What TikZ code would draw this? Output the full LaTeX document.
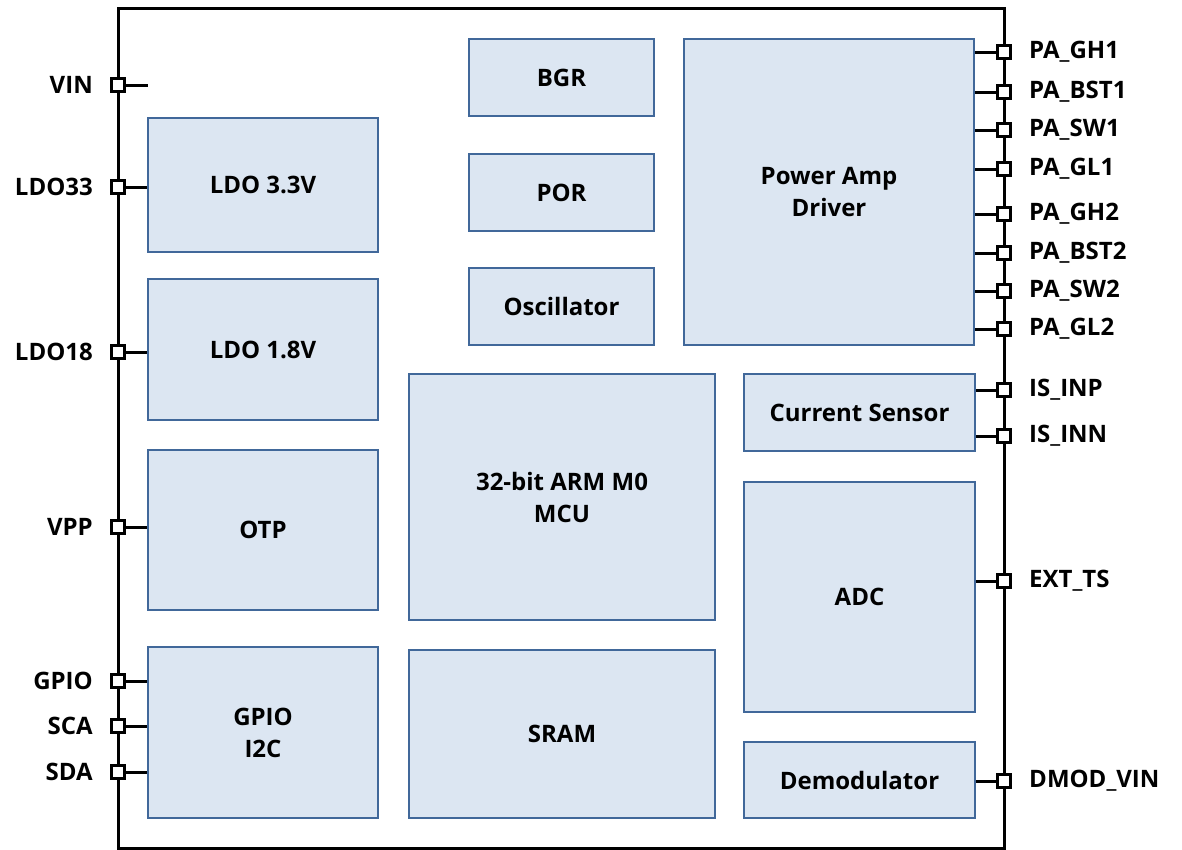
\documentclass[tikz,border=0pt]{standalone}
\usepackage{fontspec}
\setmainfont{Open Sans}
\definecolor{blkfill}{HTML}{DCE6F2}
\definecolor{blkline}{HTML}{41689A}
\begin{document}
\begin{tikzpicture}[x=1pt,y=-1pt,font=\fontsize{24}{32}\selectfont\bfseries]
    \tikzset{blk/.style={draw=blkline,fill=blkfill,line width=2.6,align=center,inner sep=0},
             pad/.style={draw,fill=white,line width=2.4,minimum size=13,inner sep=0},
             wire/.style={line width=3}}
    \useasboundingbox (0,0) rectangle (1182,849);
    % chip outline
    \draw[wire] (118,8) rectangle (1004,848);
    % blocks
    \node[blk,minimum width=230,minimum height=134] (ldo33) at (263,185) {LDO 3.3V};
    \node[blk,minimum width=230,minimum height=141] (ldo18) at (263,349.5) {LDO 1.8V};
    \node[blk,minimum width=230,minimum height=160] (otp) at (263,530) {OTP};
    \node[blk,minimum width=230,minimum height=171] (gpio) at (263,732.5) {GPIO\\I2C};
    \node[blk,minimum width=185,minimum height=77] (bgr) at (561.5,77.5) {BGR};
    \node[blk,minimum width=185,minimum height=77] (por) at (561.5,192.5) {POR};
    \node[blk,minimum width=185,minimum height=77] (osc) at (561.5,306.5) {Oscillator};
    \node[blk,minimum width=290,minimum height=306] (pa) at (829,192) {Power Amp\\Driver};
    \node[blk,minimum width=306,minimum height=246] (mcu) at (562,497) {32-bit ARM M0\\MCU};
    \node[blk,minimum width=306,minimum height=168] (sram) at (562,734) {SRAM};
    \node[blk,minimum width=231,minimum height=77] (cs) at (859.5,412.5) {Current Sensor};
    \node[blk,minimum width=231,minimum height=230] (adc) at (859.5,597) {ADC};
    \node[blk,minimum width=231,minimum height=76] (dmod) at (859.5,780) {Demodulator};
    % left pins
    \coordinate (vinend) at (148,85);
    \foreach \n/\y/\t/\b in {vin/85/VIN/vinend, l33/187/LDO33/ldo33, l18/352/LDO18/ldo18,
                             vpp/527/VPP/otp, gp/681/GPIO/gpio, sca/726/SCA/gpio, sda/772/SDA/gpio} {
        \node[pad] (\n) at (118,\y) {};
        \node[anchor=east] at (\n.west) [xshift=-14] {\t};
        \draw[wire] (\n.east) -- (\b.west |- \n);
    }
    % right pins
    \foreach \n/\y/\t/\b in {gh1/52/PA\_GH1/pa, bst1/92/PA\_BST1/pa, sw1/130/PA\_SW1/pa, gl1/169/PA\_GL1/pa,
                             gh2/214/PA\_GH2/pa, bst2/253/PA\_BST2/pa, sw2/291/PA\_SW2/pa, gl2/329/PA\_GL2/pa,
                             inp/390/IS\_INP/cs, inn/436/IS\_INN/cs, ts/581/EXT\_TS/adc, dv/781/DMOD\_VIN/dmod} {
        \node[pad] (\n) at (1004,\y) {};
        \node[anchor=west] at (\n.east) [xshift=14] {\t};
        \draw[wire] (\n.west) -- (\b.east |- \n);
    }
\end{tikzpicture}
\end{document}
